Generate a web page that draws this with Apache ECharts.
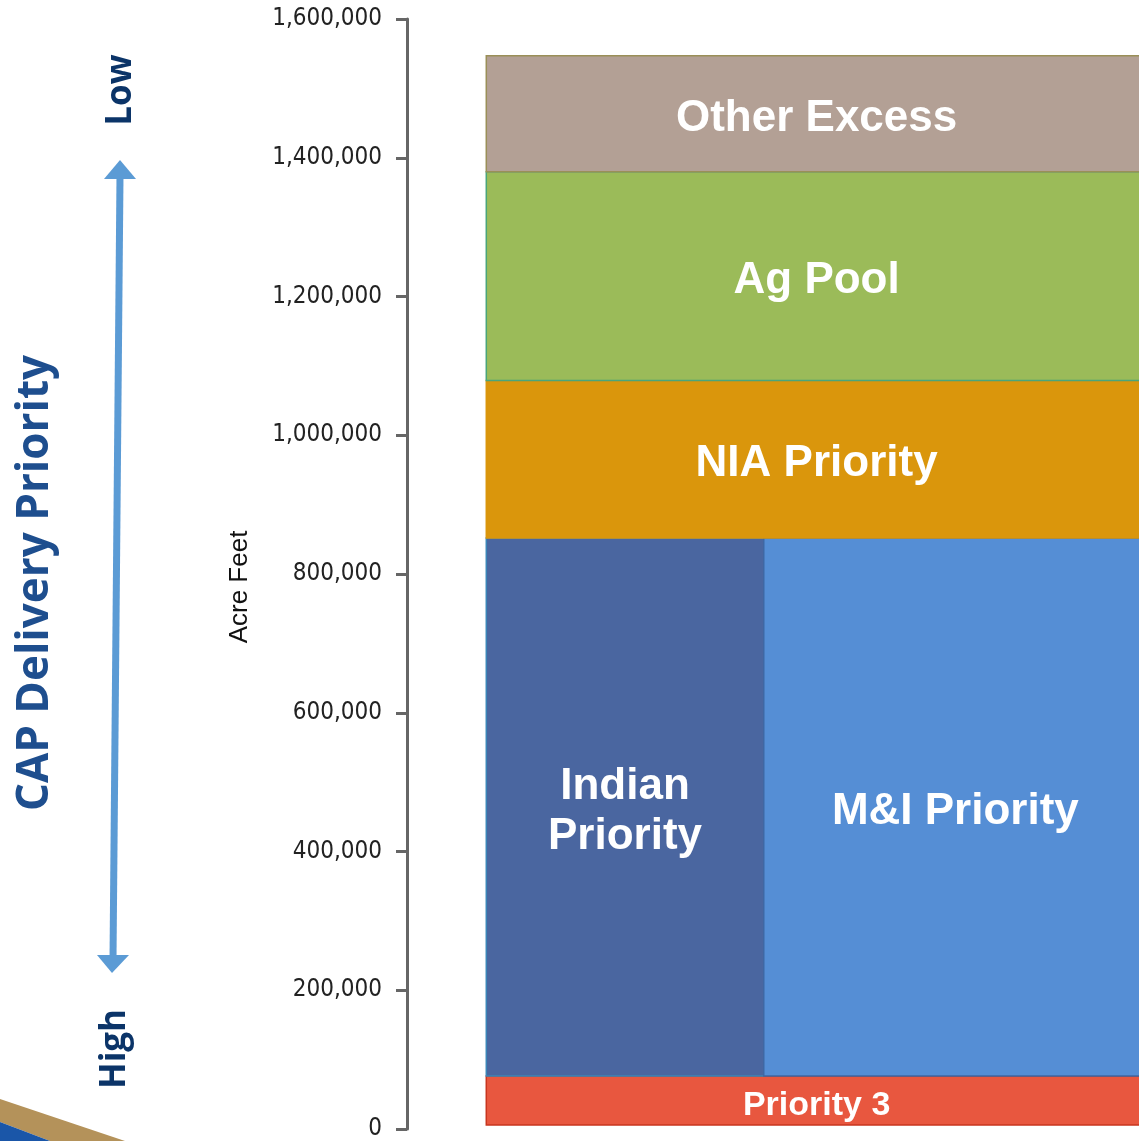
<!DOCTYPE html>
<html>
<head>
<meta charset="utf-8">
<script src="https://cdn.jsdelivr.net/npm/echarts@6/dist/echarts.min.js"></script>
<style>
html,body{margin:0;padding:0;background:#fff;}
#chart{width:1139px;height:1141px;}
</style>
</head>
<body>
<div id="chart"></div>
<script>
// ---- data ----
var categories = ['Priority 3', 'Indian\nPriority', 'M&I Priority', 'NIA Priority', 'Ag Pool', 'Other Excess'];
var bandBottom = [5800, 76300, 76300, 852000, 1079000, 1380000];   // acre-feet
var bandTop    = [76300, 852000, 852000, 1079000, 1380000, 1547000]; // acre-feet
var shareStart = [0, 0, 42, 0, 0, 0];      // % of block width
var shareEnd   = [100, 42, 100, 100, 100, 100];
var yTicks = [0, 200000, 400000, 600000, 800000, 1000000, 1200000, 1400000, 1600000];

var fills   = ['#E8573F', '#4A66A0', '#558ED5', '#DA960C', '#9BBB59', '#B3A095'];
var strokes = ['#C8361F', '#3A86B8', '#3F67A3', '#DA960C', '#4AA57A', '#9A8F58'];
var fontSizes = [34, 44, 44, 44, 44, 44];

var data = categories.map(function (c, i) {
  return [shareStart[i], shareEnd[i], bandBottom[i], bandTop[i], i];
});

var chart = echarts.init(document.getElementById('chart'));
chart.setOption({
  animation: false,
  grid: { left: 407, right: 0, top: 19, bottom: 6 },
  xAxis: { type: 'value', min: -12, max: 98.8, show: false },
  yAxis: {
    type: 'value', min: yTicks[0], max: yTicks[yTicks.length - 1], interval: yTicks[1] - yTicks[0],
    axisLine: { show: true, onZero: false, lineStyle: { color: '#666', width: 3 } },
    axisTick: { show: true, length: 11, lineStyle: { color: '#666', width: 3 } },
    splitLine: { show: false },
    axisLabel: {
      margin: 25, color: '#222', fontSize: 24,
      fontFamily: 'DejaVu Sans Condensed, Liberation Sans Narrow, sans-serif',
      formatter: function (v) { return v.toLocaleString('en-US'); }
    }
  },
  series: [{
    type: 'custom',
    clip: false,
    data: data,
    encode: { x: [0, 1], y: [2, 3] },
    renderItem: function (params, api) {
      var i = api.value(4);
      var p0 = api.coord([api.value(0), api.value(3)]);
      var p1 = api.coord([api.value(1), api.value(2)]);
      return {
        type: 'rect',
        shape: { x: p0[0], y: p0[1], width: p1[0] - p0[0], height: p1[1] - p0[1] },
        style: { fill: fills[i], stroke: strokes[i], lineWidth: 1.5 },
        textContent: {
          style: {
            text: categories[i], fill: '#fff', align: 'center',
            font: 'bold ' + fontSizes[i] + 'px "Liberation Sans", Arial, sans-serif',
            lineHeight: 50
          }
        },
        textConfig: { position: 'inside', offset: [0, 5] }
      };
    }
  }],
  graphic: [
    { type: 'text', x: 240, y: 587, rotation: Math.PI / 2,
      style: { text: 'Acre Feet', fill: '#111', align: 'center', verticalAlign: 'middle',
               font: '26px "Liberation Sans", Arial, sans-serif' } },
    { type: 'text', x: 35, y: 583, rotation: Math.PI / 2,
      style: { text: 'CAP Delivery Priority', fill: '#1E4E8E', align: 'center', verticalAlign: 'middle',
               font: 'bold 44px "Open Sans", sans-serif' } },
    { type: 'text', x: 121, y: 90, rotation: Math.PI / 2,
      style: { text: 'Low', fill: '#0B3468', align: 'center', verticalAlign: 'middle',
               font: 'bold 35px "Open Sans", sans-serif' } },
    { type: 'text', x: 115, y: 1049, rotation: Math.PI / 2,
      style: { text: 'High', fill: '#0B3468', align: 'center', verticalAlign: 'middle',
               font: 'bold 35px "Open Sans", sans-serif' } },
    { type: 'line', shape: { x1: 120, y1: 176, x2: 113, y2: 958 },
      style: { stroke: '#5B9BD5', lineWidth: 7 } },
    { type: 'polygon', shape: { points: [[104, 179], [136, 179], [120, 160]] }, style: { fill: '#5B9BD5' } },
    { type: 'polygon', shape: { points: [[97, 955], [129, 955], [112, 973]] }, style: { fill: '#5B9BD5' } },
    { type: 'polygon', shape: { points: [[0, 1099], [125, 1141], [50, 1141], [0, 1122]] }, style: { fill: '#B4925A' } },
    { type: 'polygon', shape: { points: [[0, 1122], [50, 1141], [0, 1141]] }, style: { fill: '#1A56A8' } }
  ]
});
</script>
</body>
</html>
